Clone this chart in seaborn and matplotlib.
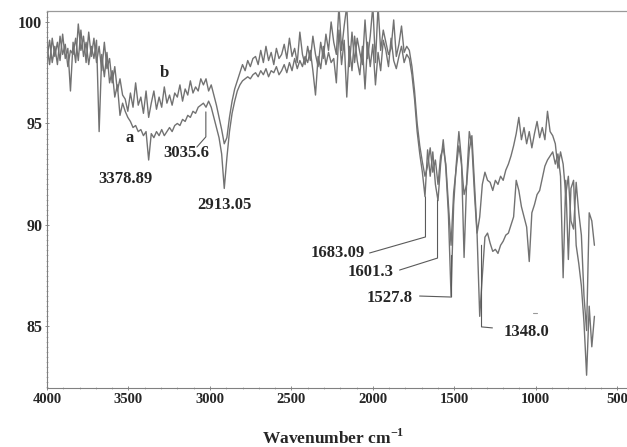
import numpy as np
import pandas as pd
import seaborn as sns
import matplotlib
matplotlib.use('Agg')
import matplotlib.pyplot as plt
from matplotlib.ticker import MultipleLocator, FixedLocator

# spectral axis (cm-1), one point every 16 cm-1
wavenumber = np.arange(4000, 639, -16)

# transmittance (%), 10 points per row
curve_a = [
    98.2, 99.1, 98.0, 98.8, 97.9, 99.3, 98.4, 98.9, 97.8, 98.6,
    98.4, 99.2, 98.1, 99.6, 98.3, 99.0, 97.9, 98.8, 98.2, 99.1,
    94.6, 98.4, 97.3, 98.5, 97.0, 97.6, 96.3, 96.9, 95.4, 96.0,
    95.6, 95.3, 95.1, 94.8, 94.9, 94.6, 94.7, 94.4, 94.6, 93.2,
    94.5, 94.3, 94.6, 94.4, 94.7, 94.4, 94.6, 94.8, 94.6, 94.9,
    95.0, 94.9, 95.2, 95.1, 95.4, 95.3, 95.6, 95.5, 95.8, 95.9,
    96.0, 95.8, 96.1, 95.8, 95.3, 94.8, 94.3, 93.5, 91.8, 93.3,
    94.6, 95.5, 96.1, 96.6, 96.9, 97.1, 97.2, 97.3, 97.2, 97.4,
    97.5, 97.3, 97.6, 97.4, 97.7, 97.3, 97.6, 97.5, 97.8, 97.4,
    97.6, 97.9, 97.5, 98.0, 97.6, 98.2, 97.7, 98.1, 97.8, 98.3,
    98.0, 98.6, 97.6, 96.4, 98.3, 97.7, 98.8, 97.9, 98.5, 98.0,
    98.2, 97.0, 99.6, 97.9, 99.1, 96.3, 98.8, 97.6, 99.3, 98.1,
    97.4, 98.8, 96.7, 99.0, 97.8, 98.9, 96.9, 98.5, 97.6, 99.1,
    98.6, 97.8, 99.2, 98.1, 97.7, 98.3, 98.8, 98.0, 98.4, 98.2,
    97.4, 96.2, 94.6, 93.5, 92.6, 91.4, 93.7, 92.4, 93.6, 92.0,
    91.2, 93.0, 94.2, 92.8, 90.5, 86.5, 91.0, 93.0, 94.6, 93.2,
    88.4, 92.2, 94.6, 93.9, 91.5, 89.5, 85.5, 87.5, 89.4, 89.6,
    89.1, 88.7, 88.8, 88.6, 89.0, 89.2, 89.5, 89.6, 90.0, 90.4,
    92.2, 91.7, 90.9, 90.4, 89.9, 88.2, 90.6, 91.0, 91.5, 91.7,
    92.3, 92.9, 93.2, 93.4, 93.6, 93.0, 93.5, 92.4, 87.4, 92.2,
    88.3, 91.8, 92.2, 89.0, 88.1, 87.0, 85.2, 82.6, 86.0, 84.0, 85.5,
]

curve_b = [
    98.8, 97.9, 99.2, 98.3, 99.0, 98.1, 99.4, 98.2, 98.7, 96.6,
    99.0, 98.0, 99.9, 98.6, 99.3, 98.0, 99.5, 98.3, 99.2, 98.0,
    98.8, 97.6, 99.0, 97.7, 98.2, 97.0, 97.8, 96.6, 97.2, 96.4,
    96.2, 95.6, 96.5, 95.8, 97.0, 95.9, 96.3, 95.5, 96.6, 95.3,
    96.0, 96.6, 95.7, 96.3, 95.8, 96.8, 96.0, 96.4, 95.9, 96.5,
    96.3, 96.9, 96.1, 96.7, 96.4, 97.1, 96.5, 96.8, 96.6, 97.2,
    96.9, 97.2, 96.6, 96.9, 96.4, 95.9, 95.3, 94.7, 94.0, 94.3,
    95.3, 96.1, 96.7, 97.1, 97.5, 97.9, 97.6, 98.1, 97.8, 98.2,
    98.3, 97.9, 98.6, 98.0, 98.8, 98.1, 98.5, 97.9, 98.7, 98.2,
    98.4, 98.9, 98.2, 99.2, 98.3, 98.7, 98.0, 99.5, 98.4, 97.9,
    98.8, 98.1, 99.3, 98.4, 97.8, 99.0, 98.2, 99.4, 98.6, 100.0,
    99.0, 98.4, 100.8, 98.6, 99.8, 100.8, 97.8, 99.5, 98.0, 99.2,
    98.5, 97.9, 100.1, 98.2, 99.3, 100.8, 98.0, 100.8, 98.6, 99.6,
    99.0, 98.4, 98.7, 100.1, 98.3, 98.9, 99.8, 98.5, 98.8, 98.6,
    97.8, 96.6, 95.0, 93.9, 93.1, 92.4, 92.9, 93.8, 92.6, 93.2,
    92.0, 93.4, 93.8, 93.0, 91.0, 89.0, 91.6, 92.8, 93.9, 93.0,
    91.5, 92.0, 93.7, 94.4, 92.0, 89.6, 90.4, 92.0, 92.6, 92.2,
    92.1, 91.7, 92.2, 92.0, 92.4, 92.2, 92.7, 93.0, 93.4, 93.9,
    94.5, 95.3, 94.2, 94.8, 94.0, 94.6, 93.8, 94.5, 95.1, 94.3,
    94.8, 94.2, 95.6, 94.6, 94.4, 94.0, 92.8, 93.6, 93.0, 91.5,
    92.4, 90.2, 89.8, 92.1, 90.6, 89.5, 86.5, 84.8, 90.6, 90.2, 89.0,
]

# peak labels: text, label position (cm-1, %T)
peak_labels = ['3378.89', '3035.6', '2913.05', '1683.09', '1601.3', '1527.8', '1348.0']
label_x = [3516, 3142, 2909, 2216, 2014, 1897, 1057]
label_y = [92.27, 93.55, 90.99, 88.62, 87.68, 86.40, 84.73]

# leader lines from label to band
leader_x = [[3080, 3025, 3025], [2020, 1677, 1677], [1836, 1603, 1603],
            [1713, 1517, 1517], [1266, 1333, 1333]]
leader_y = [[93.84, 94.34, 95.57], [88.62, 89.41, 91.38], [87.78, 88.37, 91.23],
            [86.50, 86.45, 88.50], [84.93, 84.98, 89.00]]

sns.set_style('ticks')
plt.rcParams['font.family'] = ['Liberation Serif', 'DejaVu Serif']
plt.rcParams['font.weight'] = 'bold'
plt.rcParams['mathtext.fontset'] = 'custom'
plt.rcParams['mathtext.rm'] = 'Liberation Serif:bold'
plt.rcParams['mathtext.bf'] = 'Liberation Serif:bold'

fig = plt.figure(figsize=(6.27, 4.47), dpi=100)
ax = fig.add_axes([47 / 627, 59 / 447, 580 / 627, 377 / 447])

df = pd.DataFrame({'wavenumber': wavenumber, 'a': curve_a, 'b': curve_b})
for col in ['a', 'b']:
    sns.lineplot(data=df, x='wavenumber', y=col, ax=ax, color='#727272',
                 linewidth=1.0, sort=False, estimator=None)

for lx, ly in zip(leader_x, leader_y):
    ax.plot(lx, ly, color='#5a5a5a', linewidth=0.8)
ax.plot([1018, 994], [85.65, 85.65], color='#999999', linewidth=0.8)

for s, tx, ty in zip(peak_labels, label_x, label_y):
    ax.text(tx, ty, s, ha='center', va='center', fontsize=12, fontweight='bold')
ax.text(3491, 94.29, 'a', ha='center', va='center', fontsize=12, fontweight='bold')
ax.text(3277, 97.49, 'b', ha='center', va='center', fontsize=12, fontweight='bold')

ax.set_xlim(4000, 440)
ax.set_ylim(81.97, 100.54)
ax.xaxis.set_major_locator(MultipleLocator(500))
ax.xaxis.set_minor_locator(MultipleLocator(100))
ax.yaxis.set_major_locator(FixedLocator([85, 90, 95, 100]))
ax.yaxis.set_minor_locator(MultipleLocator(0.25))
ax.tick_params(which='major', direction='inout', length=3, width=0.6,
               color='#777777', pad=2)
ax.tick_params(axis='x', which='major', labelsize=10.5)
ax.tick_params(axis='y', which='major', labelsize=11.5)
ax.tick_params(which='minor', direction='inout', length=1.5, width=0.5,
               color='#999999')
for lab in ax.get_xticklabels() + ax.get_yticklabels():
    lab.set_fontweight('bold')

ax.set_xlabel('')
ax.set_ylabel('')
ax.spines['right'].set_visible(False)
ax.spines['top'].set_color('#9a9a9a')
ax.spines['top'].set_linewidth(0.9)
for side in ['left', 'bottom']:
    ax.spines[side].set_color('#808080')
    ax.spines[side].set_linewidth(0.8)

fig.text(333 / 627, 1 - 438 / 447, r'Wavenumber cm$^{\mathbf{-1}}$',
         ha='center', va='center', fontsize=12.5, fontweight='bold')

fig.savefig('out.png', dpi=100)
